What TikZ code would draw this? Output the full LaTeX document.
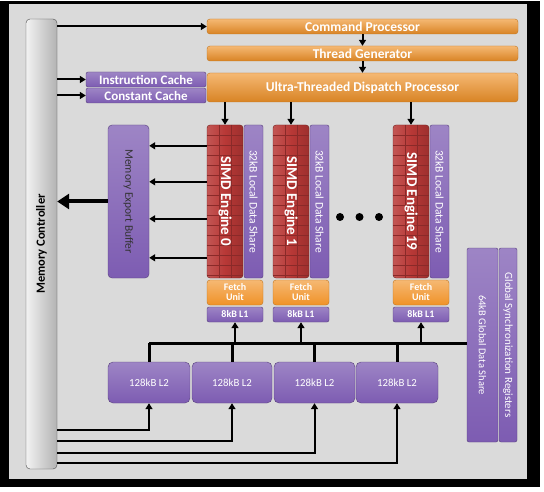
\documentclass[tikz,border=0pt]{standalone}
\usepackage{fontspec}
\usepackage{graphicx}
\setmainfont{Carlito}
\usetikzlibrary{arrows.meta}
\definecolor{dispatchorange}{RGB}{240,146,40}
\definecolor{sharepurple}{RGB}{125,92,178}
\definecolor{simdred}{RGB}{184,56,54}
\definecolor{panelgray}{RGB}{218,218,218}

\begin{document}
\begin{tikzpicture}[x=1pt,y=-1pt,
		orangebar/.style={draw=dispatchorange!80!black, top color=dispatchorange!65!white, bottom color=dispatchorange!90!black, rounded corners=3pt, text=white, inner sep=0pt, font=\bfseries\fontsize{13.5}{14}\selectfont},
		purplebox/.style={draw=sharepurple!70!black, top color=sharepurple!75!white, bottom color=sharepurple, rounded corners=2pt, text=white, inner sep=0pt},
		redbox/.style={draw=simdred!60!black, left color=simdred!85!white, right color=simdred!85!black, middle color=simdred, rounded corners=3pt, text=white, inner sep=0pt, font=\bfseries\fontsize{15}{16}\selectfont,
			path picture={\foreach \k in {1,...,15} \draw[simdred!75!black, line width=0.3] ([yshift=-10*\k]path picture bounding box.north west) -- ([yshift=-10*\k]path picture bounding box.north east);
				\draw[simdred!75!black, line width=0.3] ([xshift=12]path picture bounding box.north west) -- ([xshift=12]path picture bounding box.south west);
				\draw[simdred!75!black, line width=0.3] ([xshift=-12]path picture bounding box.north east) -- ([xshift=-12]path picture bounding box.south east);}},
		fetchbox/.style={draw=dispatchorange!80!black, top color=dispatchorange!65!white, bottom color=dispatchorange, rounded corners=3pt, text=white, inner sep=0pt, align=center, font=\bfseries\fontsize{10}{10}\selectfont},
		ctrlbox/.style={draw=black!70, left color=white!95!black, right color=black!30, rounded corners=4pt, inner sep=0pt, font=\bfseries\fontsize{12.5}{13}\selectfont},
		arr/.style={line width=2, -{Triangle[length=6,width=7]}},
		bus/.style={line width=3}]
	\useasboundingbox (0,0) rectangle (544,492);
	\fill[black] (0,1) rectangle (540,487);
	\fill[panelgray] (9,4) rectangle (527,479);

	\node[ctrlbox, minimum width=31, minimum height=450] (mc) at (41.5,244) {\rotatebox{90}{Memory Controller}};

	\node[orangebar, minimum width=311, minimum height=15] (cp) at (362.5,26.5) {Command Processor};
	\node[orangebar, minimum width=311, minimum height=15] (tg) at (362.5,53.5) {Thread Generator};
	\node[orangebar, minimum width=311, minimum height=29] (utdp) at (362.5,87.5) {Ultra-Threaded Dispatch Processor};
	\node[purplebox, minimum width=120, minimum height=15, font=\bfseries\fontsize{13}{13}\selectfont] (ic) at (146,79.5) {Instruction Cache};
	\node[purplebox, minimum width=120, minimum height=15, font=\bfseries\fontsize{13}{13}\selectfont] (cc) at (146,95.5) {Constant Cache};

	\node[purplebox, minimum width=41, minimum height=153, text=black!80, rounded corners=4pt, font=\fontsize{11.5}{12}\selectfont] (meb) at (128.5,201.5) {\rotatebox{-90}{Memory Export Buffer}};

	% engines
	\foreach \L/\n in {207/0,273/1,393/19}{
		\node[redbox, minimum width=36, minimum height=153] (e\n) at ({\L+18},201.5) {\rotatebox{-90}{SIMD Engine \n}};
		\node[purplebox, minimum width=19, minimum height=153, font=\fontsize{11.5}{12}\selectfont] (lds\n) at ({\L+46.5},201.5) {\rotatebox{-90}{32kB Local Data Share}};
		\node[fetchbox, minimum width=56, minimum height=25] (fu\n) at ({\L+28},292.5) {Fetch\\Unit};
		\node[purplebox, minimum width=56, minimum height=15, font=\bfseries\fontsize{10}{10}\selectfont] (l1e\n) at ({\L+28},314.5) {8kB L1};
		\draw[arr] (utdp.south -| e\n.north) -- (e\n.north);
	}
	\fill (340,217) circle (4) (359.5,217) circle (4) (379,217) circle (4);

	\node[purplebox, minimum width=31, minimum height=194, font=\fontsize{10.5}{11}\selectfont] (gds) at (482.5,345) {\rotatebox{-90}{64kB Global Data Share}};
	\node[purplebox, minimum width=18, minimum height=194, font=\fontsize{11}{11}\selectfont] (gsr) at (508,345) {\rotatebox{-90}{Global Synchronization Registers}};

	\node[purplebox, minimum width=82, minimum height=41, rounded corners=5pt, font=\fontsize{10.8}{11}\selectfont] (l2a) at (149,382.5) {128kB L2};
	\node[purplebox, minimum width=80, minimum height=41, rounded corners=5pt, font=\fontsize{10.8}{11}\selectfont] (l2b) at (232,382.5) {128kB L2};
	\node[purplebox, minimum width=81, minimum height=41, rounded corners=5pt, font=\fontsize{10.8}{11}\selectfont] (l2c) at (314.5,382.5) {128kB L2};
	\node[purplebox, minimum width=82, minimum height=41, rounded corners=5pt, font=\fontsize{10.8}{11}\selectfont] (l2d) at (397,382.5) {128kB L2};

	% connectors
	\draw[arr] (mc.east |- cp.west) -- (cp.west);
	\draw[arr] (mc.east |- ic.west) -- (ic.west);
	\draw[arr] (mc.east |- cc.west) -- (cc.west);
	\draw[arr] (cp.south) -- (tg.north);
	\draw[arr] (tg.south) -- (utdp.north);
	\foreach \dy in {21,57,94,133}
		\draw[arr] ([yshift=-\dy]e0.north west) coordinate (t) -- (t -| meb.east);
	\draw[line width=4, -{Triangle[length=12,width=15]}] (meb.west) -- (meb.west -| mc.east);

	\coordinate (bus) at (149,343);
	\draw[bus] (bus) -- (bus -| gds.west);
	\foreach \b in {l2a,l2b,l2c,l2d}
		\draw[bus] (\b.north) -- (\b.north |- bus);
	\foreach \n in {0,1,19}
		\draw[arr] (l1e\n.south |- bus) -- (l1e\n.south);
	\draw[arr] ([yshift=39]mc.south east) -| (l2a.south);
	\draw[arr] ([yshift=28]mc.south east) -| (l2b.south);
	\draw[arr] ([yshift=16]mc.south east) -| (l2c.south);
	\draw[arr] ([yshift=6]mc.south east) -| (l2d.south);
\end{tikzpicture}
\end{document}
